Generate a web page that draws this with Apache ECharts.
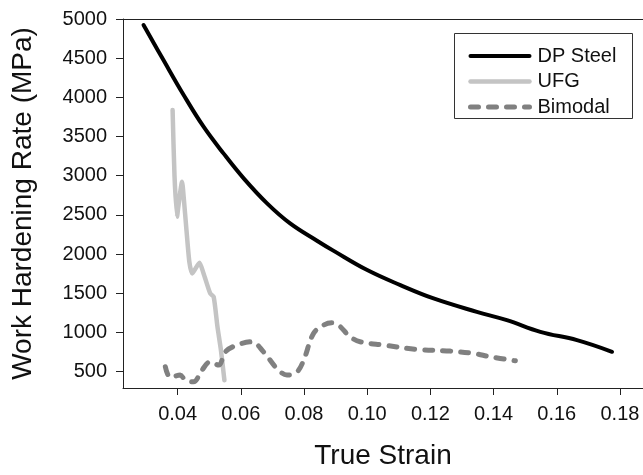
<!DOCTYPE html>
<html>
<head>
<meta charset="utf-8">
<script src="https://cdn.jsdelivr.net/npm/echarts@6/dist/echarts.min.js"></script>
<style>
  html, body { margin: 0; padding: 0; background: #fff; }
  #chart { width: 643px; height: 475px; }
</style>
</head>
<body>
<div id="chart"></div>
<script>
const xTicks = [0.04, 0.06, 0.08, 0.10, 0.12, 0.14, 0.16, 0.18];
const yTicks = [500, 1000, 1500, 2000, 2500, 3000, 3500, 4000, 4500, 5000];

const dpStrain = [0.0292, 0.0355, 0.0419, 0.0482, 0.0545, 0.0609, 0.0683, 0.0756, 0.0841, 0.0894, 0.1000, 0.1105, 0.1210, 0.1347, 0.1442, 0.1548, 0.1664, 0.1775];
const dpRate = [4923, 4476, 4030, 3625, 3285, 2966, 2647, 2391, 2170, 2040, 1795, 1603, 1433, 1262, 1156, 1007, 901, 752];

const ufgStrain = [0.0384, 0.0390, 0.0398, 0.0402, 0.0414, 0.0419, 0.0428, 0.0437, 0.0446, 0.0469, 0.0482, 0.0503, 0.0514, 0.0526, 0.0537, 0.0548];
const ufgRate = [3838, 3000, 2476, 2600, 2923, 2731, 2300, 1900, 1752, 1888, 1752, 1497, 1454, 1071, 773, 390];

const biStrain = [0.0361, 0.0377, 0.0408, 0.0424, 0.0450, 0.0477, 0.0503, 0.0530, 0.0551, 0.0588, 0.0635, 0.0672, 0.0714, 0.0746, 0.0778, 0.0799, 0.0830, 0.0862, 0.0888, 0.0909, 0.0946, 0.0978, 0.1052, 0.1157, 0.1263, 0.1337, 0.1390, 0.1469];
const biRate = [561, 425, 455, 391, 369, 518, 624, 582, 752, 838, 880, 751, 540, 455, 497, 646, 987, 1093, 1122, 1093, 944, 880, 838, 783, 761, 732, 688, 637];

const pairs = (xs, ys) => xs.map((x, i) => [x, ys[i]]);

const font = "Liberation Sans, Arial, sans-serif";
const chart = echarts.init(document.getElementById("chart"));

chart.setOption({
  animation: false,
  grid: { left: 123, right: 0, top: 19, bottom: 86.5, containLabel: false },
  xAxis: [
    {
      type: "value",
      min: 0.0227,
      max: 0.1873,
      name: "True Strain",
      nameLocation: "middle",
      nameGap: 54,
      nameTextStyle: { fontFamily: font, fontSize: 28, color: "#111" },
      axisLine: { show: true, lineStyle: { color: "#222", width: 1 } },
      axisTick: { show: true, length: 7, customValues: xTicks, lineStyle: { color: "#222" } },
      axisLabel: {
        customValues: xTicks,
        margin: 16,
        fontFamily: font,
        fontSize: 20,
        color: "#111",
        formatter: (v) => v.toFixed(2),
      },
      splitLine: { show: false },
    },
    {
      type: "value",
      position: "top",
      min: 0.0227,
      max: 0.1873,
      axisLine: { show: true, lineStyle: { color: "#222", width: 1 } },
      axisTick: { show: false },
      axisLabel: { show: false },
      splitLine: { show: false },
    },
  ],
  yAxis: {
    type: "value",
    min: 290,
    max: 5000,
    name: "Work Hardening Rate (MPa)",
    nameLocation: "middle",
    nameGap: 86,
    nameTextStyle: { fontFamily: font, fontSize: 28, color: "#111" },
    axisLine: { show: true, lineStyle: { color: "#222", width: 1 } },
    axisTick: { show: true, length: 7, customValues: yTicks, lineStyle: { color: "#222" } },
    axisLabel: {
      customValues: yTicks,
      margin: 16,
      fontFamily: font,
      fontSize: 20,
      color: "#111",
      formatter: (v) => String(v),
    },
    splitLine: { show: false },
  },
  legend: {
    orient: "vertical",
    left: 463,
    top: 41,
    itemWidth: 59,
    itemHeight: 20,
    itemGap: 5.5,
    itemStyle: { opacity: 0 },
    lineStyle: { width: "inherit" },
    textStyle: { fontFamily: font, fontSize: 20, color: "#111", lineHeight: 20, padding: [0, 0, 0, 3] },
    data: ["DP Steel", "UFG", "Bimodal"],
  },
  graphic: [
    {
      type: "rect",
      shape: { x: 454.5, y: 33.5, width: 178, height: 85 },
      style: { fill: "none", stroke: "#333", lineWidth: 1 },
      z: 1,
    },
  ],
  series: [
    {
      name: "DP Steel",
      type: "line",
      data: pairs(dpStrain, dpRate),
      symbol: "none",
      smooth: 0.4,
      lineStyle: { color: "#000", width: 4, cap: "round" },
      itemStyle: { color: "#000" },
    },
    {
      name: "UFG",
      type: "line",
      data: pairs(ufgStrain, ufgRate),
      symbol: "none",
      smooth: 0.2,
      lineStyle: { color: "#c4c4c4", width: 4.5, cap: "round", join: "round" },
      itemStyle: { color: "#c4c4c4" },
    },
    {
      name: "Bimodal",
      type: "line",
      data: pairs(biStrain, biRate),
      symbol: "none",
      smooth: 0.35,
      lineStyle: { color: "#808080", width: 5, type: [8, 10], cap: "round" },
      itemStyle: { color: "#808080" },
    },
  ],
});
</script>
</body>
</html>
